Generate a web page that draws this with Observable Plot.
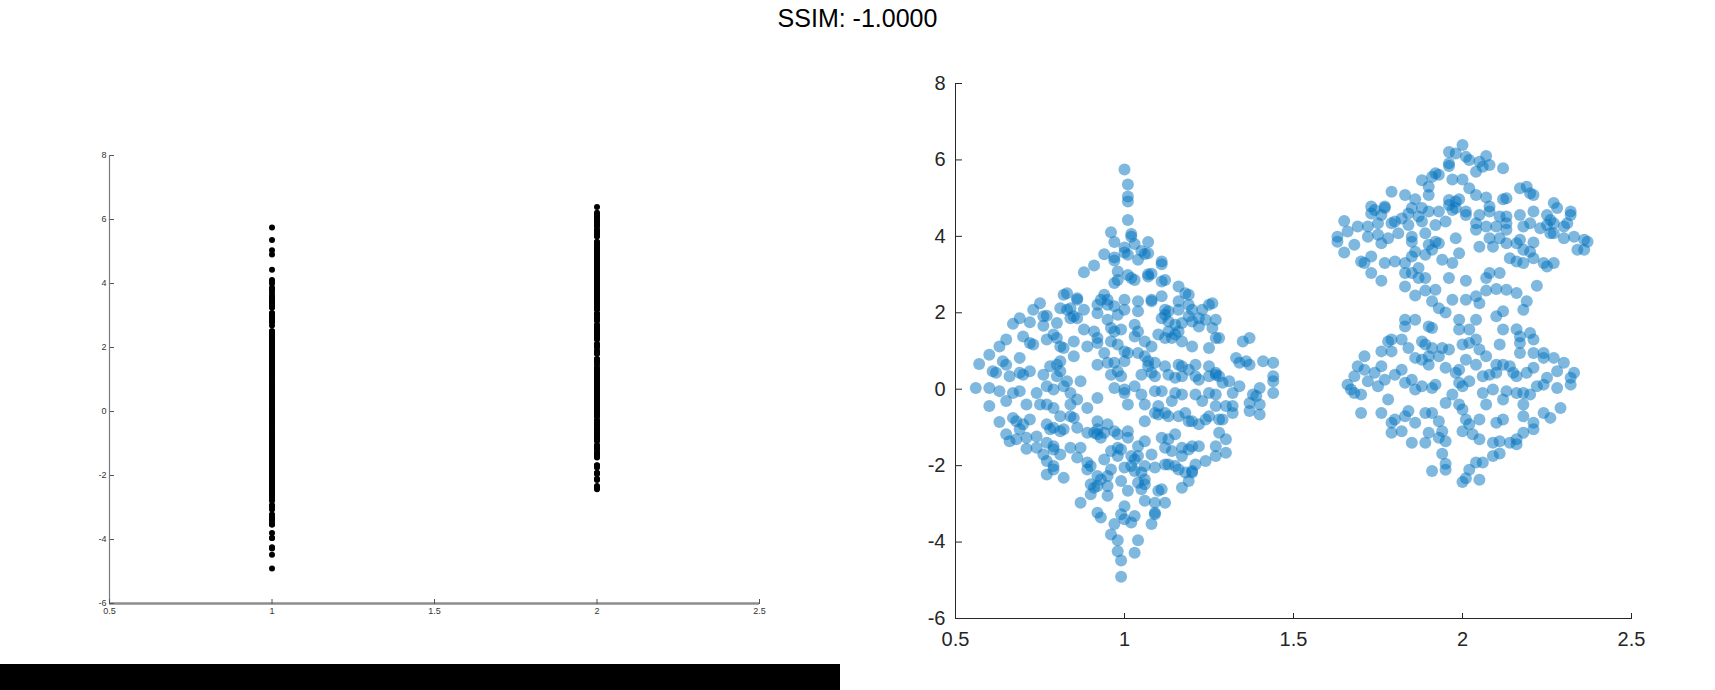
<!DOCTYPE html>
<html>
<head>
<meta charset="utf-8">
<script src="https://cdn.jsdelivr.net/npm/d3@7"></script>
<script src="https://cdn.jsdelivr.net/npm/@observablehq/plot@0.6"></script>
<style>
html, body { margin: 0; padding: 0; background: #ffffff; }
#root { position: relative; width: 1715px; height: 690px; overflow: hidden; background: #ffffff; font-family: "Liberation Sans", Arial, sans-serif; }
#title { position: absolute; left: 0; top: 3px; width: 1715px; text-align: center; font-size: 25px; line-height: 30px; color: #000000; }
#left { position: absolute; left: 60px; top: 130px; }
#right { position: absolute; left: 880px; top: 60px; }
#bar { position: absolute; left: 0; top: 664px; width: 840px; height: 26px; background: #000000; }
</style>
</head>
<body>
<div id="root">
  <div id="title"></div>
  <div id="left"></div>
  <div id="right"></div>
  <div id="bar"></div>
</div>
<script>
// ---- data ----
const titleText = "SSIM: -1.0000";
const categories = [1, 2];
const xTicks = [0.5, 1, 1.5, 2, 2.5];
const yTicks = [-6, -4, -2, 0, 2, 4, 6, 8];

// group 1: [position in the swarm, value]
const group1 = [
[1.00,5.75],[1.01,5.36],[1.01,5.04],[1.01,4.91],[1.01,4.43],[0.96,4.11],[1.02,4.06],[1.02,3.99],[0.97,3.85],[1.03,3.80],[1.07,3.85],[1.00,3.71],[1.00,3.58],[1.01,3.52],[0.94,3.53],[0.97,3.45],[0.97,3.37],[1.05,3.62],[1.06,3.54],[1.07,3.56],[1.04,3.39],[1.11,3.34],[1.11,3.27],[0.91,3.24],[0.88,3.06],[0.98,3.08],[1.07,3.01],[1.08,3.02],[1.01,2.99],
[0.97,2.78],[0.98,2.86],[1.02,2.91],[1.03,2.86],[1.07,2.95],[1.11,2.82],[1.12,2.86],[1.16,2.69],[1.18,2.51],[0.82,2.47],[0.83,2.51],[0.86,2.38],[0.86,2.34],[0.94,2.47],[0.93,2.34],[0.95,2.34],[1.00,2.34],[1.04,2.30],[1.08,2.30],[1.08,2.34],[1.11,2.43],[1.16,2.30],[1.19,2.47],[1.19,2.21],[0.75,2.25],[0.73,2.08],[0.76,1.91],[0.77,1.92],[0.81,2.12],[0.83,2.08],[0.84,2.12],[0.88,2.08],[0.86,1.86],[0.84,1.86],[0.85,1.91],[0.92,2.21],[0.92,1.99],[0.95,2.21],[0.97,2.17],[1.00,2.08],[0.98,1.95],[1.04,2.04],[1.12,2.08],[1.12,1.95],[1.13,2.04],[1.16,2.08],[1.20,2.08],[1.23,2.08],[1.25,2.21],[1.26,2.25],
[0.69,1.86],[0.67,1.71],[0.72,1.75],[0.76,1.66],[0.80,1.73],[0.88,1.56],[0.91,1.51],[0.92,1.34],[0.95,1.82],[0.96,1.60],[0.99,1.56],[0.97,1.51],[1.03,1.69],[1.04,1.51],[1.11,1.86],[1.13,1.77],[1.15,1.69],[1.17,1.73],[1.19,1.91],[1.20,1.77],[1.22,1.86],[1.24,1.82],[1.27,1.82],[1.13,1.51],[1.15,1.43],[1.16,1.51],[1.22,1.64],[1.26,1.60],
[0.65,1.30],[0.63,1.12],[0.70,1.38],[0.72,1.21],[0.77,1.30],[0.79,1.43],[0.80,1.34],[0.85,1.25],[0.89,1.12],[0.92,1.21],[0.96,1.25],[0.98,1.17],[1.03,1.38],[1.06,1.25],[1.10,1.43],[1.12,1.34],[1.14,1.34],[1.17,1.25],[1.20,1.12],[1.25,1.08],[1.27,1.34],[1.28,1.34],[1.35,1.25],[1.37,1.34],
[0.60,0.90],[0.57,0.66],[0.64,0.73],[0.65,0.64],[0.69,0.82],[0.73,1.17],[0.81,1.12],[0.82,1.08],[0.85,0.86],[0.81,0.73],[0.80,0.64],[0.92,0.64],[0.94,0.95],[0.95,0.69],[0.97,0.69],[1.00,0.73],[1.00,0.99],[1.01,0.95],[1.04,0.95],[1.06,0.86],[1.07,0.73],[1.08,1.12],[1.07,0.60],[1.09,0.69],[1.12,0.60],[1.16,0.64],[1.17,0.60],[1.19,0.51],[1.21,0.64],[1.25,0.60],[1.27,0.43],[1.28,0.34],[1.33,0.82],[1.34,0.69],[1.36,0.73],[1.37,0.64],[1.41,0.73],[1.44,0.69],
[0.61,0.47],[0.62,0.43],[0.66,0.34],[0.69,0.43],[0.70,0.38],[0.72,0.47],[0.76,0.38],[0.78,0.60],[0.81,0.47],[0.80,0.34],[0.83,0.21],[0.87,0.21],[0.96,0.38],[0.98,0.47],[0.99,0.34],[1.05,0.38],[1.08,0.43],[1.09,0.34],[1.13,0.38],[1.15,0.30],[1.17,0.34],[1.21,0.34],[1.22,0.25],[1.25,0.34],[1.27,0.38],[1.29,0.17],[1.31,0.21],[1.34,0.08],[1.40,0.03],[1.44,0.34],[1.44,0.21],
[0.56,0.03],[0.60,0.03],[0.63,-0.05],[0.67,-0.10],[0.69,-0.05],[0.74,-0.10],[0.77,0.08],[0.79,-0.01],[0.82,0.08],[0.84,-0.10],[0.92,-0.23],[0.97,0.03],[1.00,-0.01],[1.00,-0.10],[1.03,0.08],[1.05,-0.14],[1.09,-0.05],[1.11,-0.05],[1.15,-0.10],[1.17,-0.14],[1.21,-0.14],[1.25,-0.10],[1.27,-0.14],[1.32,-0.10],[1.38,-0.14],[1.39,-0.18],[1.44,-0.10],
[0.60,-0.44],[0.65,-0.31],[0.71,-0.40],[0.75,-0.40],[0.77,-0.40],[0.79,-0.49],[0.84,-0.40],[0.86,-0.27],[0.89,-0.49],[1.01,-0.40],[1.06,-0.40],[1.10,-0.44],[1.14,-0.31],[1.23,-0.31],[1.27,-0.44],[1.30,-0.44],[1.32,-0.44],[1.37,-0.36],[1.40,-0.40],
[0.63,-0.86],[0.67,-0.75],[0.68,-0.84],[0.70,-0.92],[0.72,-0.79],[0.69,-1.05],[0.65,-1.18],[0.66,-1.36],[0.68,-1.31],[0.71,-1.56],[0.71,-1.27],[0.74,-1.24],[0.74,-1.53],[0.77,-0.92],[0.78,-1.05],[0.79,-1.01],[0.81,-1.10],[0.82,-1.05],[0.86,-1.01],[0.84,-0.71],[0.85,-0.75],[0.81,-0.71],[0.77,-1.40],[0.79,-1.49],[0.79,-1.58],[0.76,-1.71],[0.77,-1.88],[0.81,-1.71],[0.84,-1.53],[0.87,-1.53],[0.86,-1.79],
[0.89,-1.14],[0.91,-1.14],[0.92,-1.18],[0.92,-1.05],[0.93,-1.27],[0.95,-0.92],[0.97,-1.10],[0.98,-1.18],[1.01,-1.10],[1.01,-1.27],[0.94,-1.14],[0.92,-0.84],[1.06,-0.84],[1.09,-0.62],[1.10,-0.66],[1.12,-0.62],[1.13,-0.71],[1.16,-0.71],[1.18,-0.62],[1.19,-0.84],[1.20,-0.84],[1.22,-0.92],[1.24,-0.79],[1.25,-0.71],[1.28,-0.79],[1.29,-0.79],[1.32,-0.62],[1.37,-0.57],[1.40,-0.66],
[1.04,-1.49],[1.06,-1.36],[1.08,-1.71],[1.04,-1.75],[1.02,-1.75],[1.03,-1.84],[0.99,-1.58],[0.98,-1.53],[0.96,-1.62],[0.94,-1.84],[0.98,-1.75],[1.11,-1.27],[1.13,-1.31],[1.15,-1.18],[1.12,-1.53],[1.14,-1.62],[1.17,-1.53],[1.19,-1.58],[1.20,-1.49],[1.22,-1.49],[1.27,-1.49],[1.28,-1.14],[1.30,-1.31],[1.30,-1.66],[1.27,-1.75],[1.24,-1.88],[1.21,-1.97],[1.20,-2.14],[1.17,-1.75],[1.15,-2.01],[1.13,-1.97],[1.12,-1.97],[1.16,-2.10],
[1.06,-2.01],[1.09,-2.05],[1.05,-2.18],[1.03,-2.14],[1.00,-2.05],[1.02,-2.01],[0.89,-1.92],[0.90,-2.01],[0.89,-2.10],[0.96,-2.10],[0.95,-2.27],[0.92,-2.27],[0.93,-2.36],[0.77,-2.23],[0.79,-2.01],[0.79,-2.10],[0.82,-2.32],[0.99,-2.40],[1.01,-2.66],[1.04,-2.45],[1.06,-2.49],[1.05,-2.62],[1.06,-2.36],[1.11,-2.62],[1.10,-2.66],[1.17,-2.58],[1.19,-2.40],[1.20,-2.18],[1.18,-2.18],
[0.90,-2.49],[0.91,-2.58],[0.92,-2.53],[0.95,-2.53],[0.95,-2.79],[0.90,-2.75],[0.87,-2.97],[1.00,-3.06],[0.99,-3.27],[1.03,-3.32],[1.06,-2.92],[1.09,-2.97],[1.12,-2.97],[1.09,-3.23],[1.09,-3.27],[1.08,-3.53],[0.92,-3.23],[0.93,-3.36],[1.00,-3.40],[0.97,-3.53],[1.02,-3.49],
[0.96,-3.80],[0.98,-3.95],[1.04,-3.95],[0.98,-4.24],[1.03,-4.28],[0.99,-4.48],[0.99,-4.91]
];

// group 2: [position in the swarm, value]
const group2 = [
[2.00,6.39],[1.96,6.21],[1.98,6.17],[2.01,6.08],[2.02,6.00],[2.07,6.10],[2.05,5.95],[2.06,5.82],[2.04,5.69],[2.08,5.87],[2.12,5.78],[1.96,5.91],[1.96,5.84],[1.92,5.65],[1.93,5.61],[1.91,5.56],[1.88,5.47],[1.97,5.49],[2.00,5.49],[1.90,5.30],[1.90,5.08],[2.02,5.26],[2.04,5.08],[2.07,5.02],[2.12,4.97],[2.13,5.00],[1.79,5.17],[1.83,5.08],[1.86,4.97],[1.96,4.95],[1.98,4.91],[1.99,4.97],[1.96,4.82],[2.17,5.26],[2.19,5.30],[2.20,5.13],[2.21,5.08],
[1.73,4.78],[1.74,4.69],[1.73,4.60],[1.77,4.78],[1.77,4.74],[1.76,4.56],[1.85,4.74],[1.88,4.74],[1.84,4.60],[1.87,4.52],[1.90,4.65],[1.93,4.65],[1.97,4.69],[1.98,4.74],[2.01,4.65],[2.01,4.56],[2.08,4.78],[2.08,4.65],[2.05,4.56],[2.11,4.52],[2.13,4.52],[2.17,4.56],[2.21,4.65],[2.25,4.56],[2.27,4.87],[2.28,4.74],[2.32,4.65],[2.32,4.56],[2.26,4.43],[2.27,4.34],[2.30,4.26],[2.31,4.34],
[1.65,4.40],[1.69,4.26],[1.72,4.26],[1.75,4.34],[1.79,4.34],[1.80,4.39],[1.82,4.47],[1.84,4.30],[1.88,4.39],[1.92,4.30],[1.95,4.39],[2.04,4.34],[2.04,4.17],[2.07,4.26],[2.10,4.26],[2.13,4.34],[2.13,4.17],[2.18,4.26],[2.20,4.34],[2.23,4.21],[2.25,4.30],[2.26,4.08],[2.27,4.08],
[1.63,3.99],[1.63,3.86],[1.66,4.13],[1.68,3.78],[1.65,3.58],[1.72,3.99],[1.75,4.04],[1.78,3.95],[1.76,3.82],[1.81,4.08],[1.85,3.99],[1.89,4.08],[1.92,3.86],[1.90,3.78],[1.85,3.86],[1.98,3.95],[2.05,3.73],[2.08,3.95],[2.11,3.95],[2.09,3.73],[2.13,3.82],[2.16,3.82],[2.17,3.91],[2.21,3.84],[2.18,3.65],[2.20,3.60],[2.30,3.95],[2.33,3.99],[2.36,3.91],[2.37,3.86],[2.34,3.65],[2.36,3.65],
[1.70,3.34],[1.71,3.30],[1.73,3.47],[1.77,3.30],[1.80,3.34],[1.83,3.30],[1.85,3.47],[1.86,3.60],[1.89,3.52],[1.93,3.82],[1.91,3.65],[1.94,3.39],[1.97,3.30],[1.99,3.56],[2.14,3.43],[2.16,3.34],[2.18,3.30],[2.21,3.43],[2.24,3.30],[2.25,3.21],[2.27,3.30],
[1.73,3.04],[1.76,2.84],[1.83,3.04],[1.85,3.04],[1.87,3.17],[1.87,2.91],[1.89,2.91],[1.96,2.91],[2.01,2.84],[2.07,2.91],[2.08,3.04],[2.11,3.04],[2.22,2.71],[1.83,2.69],
[1.86,2.45],[1.89,2.58],[1.92,2.60],[1.91,2.30],[1.93,2.12],[1.95,2.01],[1.97,2.34],[2.01,2.34],[2.04,2.43],[2.05,2.25],[2.07,2.58],[2.10,2.62],[2.13,2.60],[2.16,2.52],[2.19,2.30],[2.18,2.08],
[1.83,1.82],[1.83,1.64],[1.86,1.82],[1.90,1.64],[1.91,1.60],[1.99,1.82],[1.99,1.56],[2.02,1.56],[2.04,1.82],[2.10,1.91],[2.12,2.04],[2.12,1.56],[2.16,1.57],[2.17,1.38],[2.20,1.47],[2.21,1.30],[2.17,1.21],
[1.78,1.25],[1.79,1.30],[1.82,1.30],[1.84,1.08],[1.79,0.99],[1.76,0.99],[1.71,0.86],[1.88,1.25],[1.89,1.17],[1.91,1.08],[1.94,1.08],[1.96,1.04],[1.90,0.86],[1.86,0.82],[1.88,0.77],[1.90,0.64],[1.93,0.86],[1.95,0.56],[2.00,1.17],[2.02,1.21],[2.04,1.30],[2.05,1.04],[2.07,0.86],[2.04,0.64],[2.01,0.77],[1.99,0.51],
[2.11,1.17],[2.10,0.64],[2.12,0.64],[2.14,0.60],[2.15,0.43],[2.16,0.34],[2.17,0.95],[2.21,0.95],[2.24,0.95],[2.24,0.82],[2.27,0.82],[2.30,0.69],[2.28,0.47],[2.32,0.30],[2.33,0.43],[2.32,0.12],[2.28,0.03],
[1.69,0.60],[1.68,0.34],[1.71,0.51],[1.74,0.43],[1.76,0.60],[1.72,0.21],[1.66,0.12],[1.67,-0.01],[1.68,-0.10],[1.70,-0.14],[1.75,0.08],[1.77,0.25],[1.80,0.38],[1.82,0.51],[1.83,0.17],[1.85,0.25],[1.86,-0.01],[1.88,0.08],[1.91,0.03],[1.92,0.12],
[1.98,0.43],[1.99,0.17],[2.00,0.08],[1.97,-0.14],[2.02,0.21],[2.06,0.34],[2.08,0.38],[2.10,0.43],[2.06,-0.10],[2.09,-0.01],[2.13,-0.05],[2.16,-0.10],[2.18,-0.10],[2.20,-0.14],[2.22,0.08],[2.24,0.12],[2.25,0.30],[2.21,0.56],[2.19,0.43],
[1.70,-0.62],[1.76,-0.62],[1.78,-0.27],[1.79,-0.88],[1.80,-0.79],[1.83,-0.71],[1.84,-0.57],[1.86,-0.88],[1.89,-0.62],[1.91,-0.62],[1.95,-0.36],[1.93,-0.84],[1.99,-0.40],[2.00,-0.53],[2.01,-0.79],[2.02,-0.92],[2.05,-0.79],[2.07,-0.40],[2.10,-0.88],[2.12,-0.79],[2.12,-0.27],[2.18,-0.40],[2.18,-0.71],[2.21,-0.88],[2.24,-0.62],[2.26,-0.75],[2.29,-0.49],
[1.79,-1.14],[1.82,-1.10],[1.85,-1.40],[1.89,-1.40],[1.90,-1.14],[1.93,-1.27],[1.95,-1.36],[1.94,-1.10],[2.00,-1.10],[2.03,-1.18],[2.05,-1.31],[2.09,-1.40],[2.11,-1.36],[2.14,-1.40],[2.16,-1.31],[2.18,-1.14],[2.21,-1.05],[2.16,-1.44],
[1.91,-2.14],[1.95,-2.11],[1.95,-1.95],[2.00,-2.43],[2.01,-2.33],[2.05,-2.37],[2.02,-2.11],[2.04,-1.92],[2.06,-1.92],[2.09,-1.75],[2.11,-1.68],[1.94,-1.69]
];

// ---- tables built from the arrays ----
const groups = [group1, group2];
const strip = groups.flatMap((g, i) => g.map(([pos, v]) => ({cat: categories[i], value: v})));
const swarm = groups.flatMap((g, i) => g.map(([pos, v]) => ({pos, value: v})));
const fmt = d => String(d);

document.getElementById("title").textContent = titleText;

// ---- left panel: strip plot ----
const leftPlot = Plot.plot({
  width: 720, height: 500,
  marginLeft: 49, marginRight: 21, marginTop: 25, marginBottom: 27,
  style: {background: "transparent", fontFamily: "'Liberation Sans', Arial, sans-serif", fontSize: "9px", color: "#333333", overflow: "visible"},
  x: {domain: [0.5, 2.5], axis: null, label: null},
  y: {domain: [-6, 8], axis: null, label: null},
  marks: [
    Plot.ruleX([0.5], {stroke: "#7a7a7a", strokeWidth: 1.2}),
    Plot.ruleY([-6], {stroke: "#8c8c8c", strokeWidth: 2.5}),
    Plot.axisY({ticks: yTicks, anchor: "right", frameAnchor: "left", tickSize: 4, fill: "none", stroke: "#555555"}),
    Plot.axisY({ticks: yTicks, anchor: "left", tickSize: 0, tickPadding: 3, tickFormat: fmt, label: null, fill: "#333333"}),
    Plot.axisX({ticks: xTicks, anchor: "top", frameAnchor: "bottom", tickSize: 5, fill: "none", stroke: "#555555"}),
    Plot.axisX({ticks: xTicks, anchor: "bottom", tickSize: 0, tickPadding: 4, tickFormat: fmt, label: null, fill: "#333333"}),
    Plot.dot(strip, {x: "cat", y: "value", r: 3, fill: "#000000", stroke: null})
  ]
});
document.getElementById("left").appendChild(leftPlot);

// ---- right panel: swarm chart ----
const rightPlot = Plot.plot({
  width: 780, height: 620,
  marginLeft: 75, marginRight: 29, marginTop: 23, marginBottom: 62,
  style: {background: "transparent", fontFamily: "'Liberation Sans', Arial, sans-serif", fontSize: "20px", color: "#262626", overflow: "visible"},
  x: {domain: [0.5, 2.5], axis: null, label: null},
  y: {domain: [-6, 8], axis: null, label: null},
  marks: [
    Plot.dot(swarm, {x: "pos", y: "value", r: 6, fill: "#0072BD", fillOpacity: 0.5, stroke: null}),
    Plot.ruleX([0.5], {stroke: "#262626", strokeWidth: 1}),
    Plot.ruleY([-6], {stroke: "#262626", strokeWidth: 1}),
    Plot.axisY({ticks: yTicks, anchor: "right", frameAnchor: "left", tickSize: 6, fill: "none", stroke: "#262626"}),
    Plot.axisY({ticks: yTicks, anchor: "left", tickSize: 0, tickPadding: 10, tickFormat: fmt, label: null, fill: "#262626"}),
    Plot.axisX({ticks: xTicks, anchor: "top", frameAnchor: "bottom", tickSize: 6, fill: "none", stroke: "#262626"}),
    Plot.axisX({ticks: xTicks, anchor: "bottom", tickSize: 0, tickPadding: 13, tickFormat: fmt, label: null, fill: "#262626"})
  ]
});
document.getElementById("right").appendChild(rightPlot);
</script>
</body>
</html>
